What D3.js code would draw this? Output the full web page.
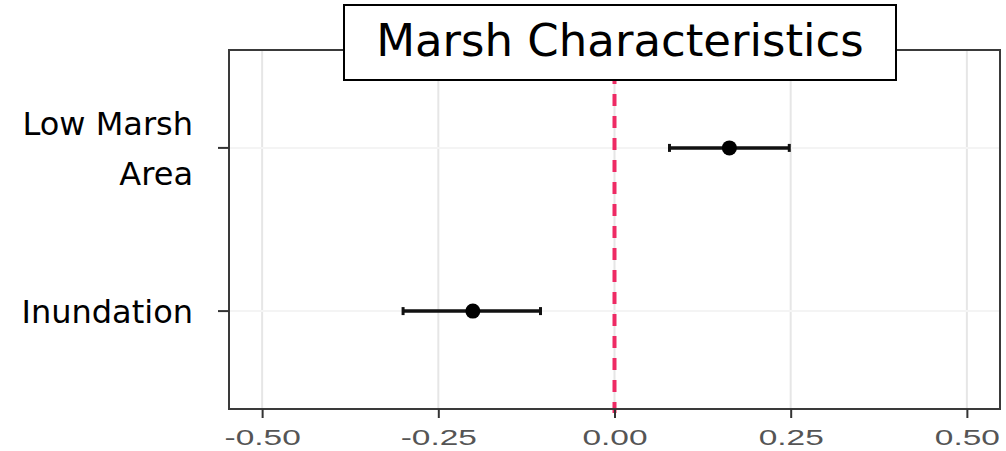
<!DOCTYPE html>
<html>
<head>
<meta charset="utf-8">
<script src="https://cdn.jsdelivr.net/npm/d3@7"></script>
<style>
  body { margin: 0; background: #fff; }
  svg { display: block; }
</style>
</head>
<body>
<svg width="1006" height="451"></svg>
<script>
// Data
const categories = ["Low Marsh Area", "Inundation"];
const categoryLines = [["Low Marsh", "Area"], ["Inundation"]];
const estimates = [0.163, -0.201];
const lowerCI = [0.078, -0.300];
const upperCI = [0.248, -0.105];
const xTicks = [-0.50, -0.25, 0.00, 0.25, 0.50];
const title = "Marsh Characteristics";

const svg = d3.select("svg");

const panel = { left: 229, right: 1000, top: 50, bottom: 409 };

const x = d3.scaleLinear()
    .domain([-0.547, 0.547])
    .range([panel.left, panel.right]);

// ggplot-style discrete expansion of 0.6
const y = d3.scaleLinear()
    .domain([0.4, 2.6])
    .range([panel.top, panel.bottom]);
const yPos = i => y(i + 1);

// grid lines
svg.append("g")
    .selectAll("line")
    .data(xTicks)
    .enter().append("line")
    .attr("x1", d => x(d)).attr("x2", d => x(d))
    .attr("y1", panel.top).attr("y2", panel.bottom)
    .attr("stroke", "#e6e6e6")
    .attr("stroke-width", 2);

svg.append("g")
    .selectAll("line")
    .data(categories)
    .enter().append("line")
    .attr("x1", panel.left).attr("x2", panel.right)
    .attr("y1", (d, i) => yPos(i)).attr("y2", (d, i) => yPos(i))
    .attr("stroke", "#f4f4f4")
    .attr("stroke-width", 2);

// zero reference line
svg.append("line")
    .attr("x1", x(0)).attr("x2", x(0))
    .attr("y1", panel.top).attr("y2", panel.bottom + 4)
    .attr("stroke", "#ee2a64")
    .attr("stroke-width", 4)
    .attr("stroke-dasharray", "12,10");

// error bars
const bars = svg.append("g")
    .selectAll("g")
    .data(categories)
    .enter().append("g");

bars.append("line")
    .attr("x1", (d, i) => x(lowerCI[i]))
    .attr("x2", (d, i) => x(upperCI[i]))
    .attr("y1", (d, i) => yPos(i)).attr("y2", (d, i) => yPos(i))
    .attr("stroke", "#111")
    .attr("stroke-width", 3.5);

bars.selectAll(".cap")
    .data((d, i) => [lowerCI[i], upperCI[i]].map(v => ({ v, i })))
    .enter().append("line")
    .attr("class", "cap")
    .attr("x1", d => x(d.v)).attr("x2", d => x(d.v))
    .attr("y1", d => yPos(d.i) - 4).attr("y2", d => yPos(d.i) + 4)
    .attr("stroke", "#111")
    .attr("stroke-width", 3);

bars.append("circle")
    .attr("cx", (d, i) => x(estimates[i]))
    .attr("cy", (d, i) => yPos(i))
    .attr("r", 7.5)
    .attr("fill", "#000");

// panel border
svg.append("rect")
    .attr("x", panel.left).attr("y", panel.top)
    .attr("width", panel.right - panel.left)
    .attr("height", panel.bottom - panel.top)
    .attr("fill", "none")
    .attr("stroke", "#3a3a3a")
    .attr("stroke-width", 2);

// x axis
const fmt = d3.format(".2f");
const xAxis = svg.append("g")
    .attr("transform", `translate(0,${panel.bottom})`)
    .call(d3.axisBottom(x).tickValues(xTicks).tickSize(9)
        .tickFormat(d => fmt(d).replace("\u2212", "-")));
xAxis.select(".domain").remove();
xAxis.selectAll(".tick line").attr("stroke", "#333").attr("stroke-width", 2);
xAxis.selectAll(".tick text")
    .attr("y", 0)
    .attr("dy", 0)
    .attr("fill", "#555")
    .style("font-family", "'Liberation Sans', Arial, sans-serif")
    .style("font-size", "22px")
    .attr("transform", "translate(0,36) scale(1.52,1)");

// y axis ticks
svg.append("g")
    .selectAll("line")
    .data(categories)
    .enter().append("line")
    .attr("x1", panel.left - 11).attr("x2", panel.left)
    .attr("y1", (d, i) => yPos(i)).attr("y2", (d, i) => yPos(i))
    .attr("stroke", "#333")
    .attr("stroke-width", 2);

// y category labels
const yLabels = svg.append("g")
    .selectAll("text")
    .data(categoryLines)
    .enter().append("text")
    .attr("text-anchor", "end")
    .attr("fill", "#000")
    .style("font-family", "'DejaVu Sans', sans-serif")
    .style("font-size", "32px");

yLabels.each(function(lines, i) {
    const t = d3.select(this);
    const lh = 50;
    const first = yPos(i) + 12 - (lines.length - 1) * lh / 2;
    lines.forEach((ln, k) => {
        t.append("tspan")
            .attr("x", 193)
            .attr("y", first + k * lh)
            .text(ln);
    });
});

// title box
svg.append("rect")
    .attr("x", 344).attr("y", 5)
    .attr("width", 552).attr("height", 75)
    .attr("fill", "#fff")
    .attr("stroke", "#000")
    .attr("stroke-width", 2);

svg.append("text")
    .attr("x", 620).attr("y", 56)
    .attr("text-anchor", "middle")
    .style("font-family", "'DejaVu Sans', sans-serif")
    .style("font-size", "45px")
    .attr("fill", "#000")
    .text(title);
</script>
</body>
</html>
